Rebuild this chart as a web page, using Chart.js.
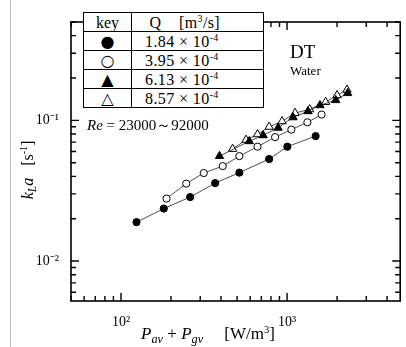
<!DOCTYPE html>
<html>
<head>
<meta charset="utf-8">
<script src="https://cdn.jsdelivr.net/npm/chart.js@4"></script>
<style>
  html, body { margin: 0; padding: 0; background: #fff; }
  #wrap { position: relative; width: 406px; height: 347px; overflow: hidden; font-family: "Liberation Serif", "Times New Roman", serif; color: #000; }
  #wrap canvas { position: absolute; left: 0; top: 0; }
  .lbl { position: absolute; white-space: nowrap; font-family: "Liberation Serif", "Times New Roman", serif; }
  #keytab { position: absolute; left: 83px; top: 12px; width: 179px; table-layout: fixed; border-collapse: collapse; background: #fff; font-size: 16px; font-family: "Liberation Serif", serif; }
  #keytab td { border: 1.5px solid #000; padding: 0; height: 18px; line-height: 17px; white-space: nowrap; overflow: hidden; }
  #keytab td.k { width: 47px; text-align: center; font-family: "DejaVu Sans", sans-serif; font-size: 16px; }
  #keytab td.q { width: 118px; padding-left: 13px; letter-spacing: 0.4px; }
  sup { font-size: 0.62em; line-height: 0; vertical-align: 0; position: relative; top: -0.6em; }
  sub { font-size: 0.72em; line-height: 0; vertical-align: 0; position: relative; top: 0.3em; }
  #vline { position: absolute; left: 10px; top: 0; width: 1px; height: 347px; background: #bbb; }
</style>
</head>
<body>
<div id="wrap">
  <canvas id="chart-kla" width="406" height="347"></canvas>
  <div id="vline"></div>
  <table id="keytab">
    <tr><td class="k" style="font-family:'Liberation Serif',serif;font-size:16px">key</td><td class="q">&nbsp;Q&nbsp;&nbsp;&nbsp;&nbsp;[m<sup>3</sup>/s]</td></tr>
    <tr><td class="k">●</td><td class="q">1.84 × 10<sup>-4</sup></td></tr>
    <tr><td class="k">○</td><td class="q">3.95 × 10<sup>-4</sup></td></tr>
    <tr><td class="k">▲</td><td class="q">6.13 × 10<sup>-4</sup></td></tr>
    <tr><td class="k">△</td><td class="q">8.57 × 10<sup>-4</sup></td></tr>
  </table>
  <div class="lbl" style="left:290px;top:42px;font-size:19px;line-height:19px">DT</div>
  <div class="lbl" style="left:290px;top:64px;font-size:13px;line-height:13px">Water</div>
  <div class="lbl" style="left:87px;top:118px;font-size:15px;line-height:15px"><i>Re</i> = 23000～92000</div>
  <div class="lbl" style="left:28px;top:170px;font-size:16px;line-height:16px;transform:translate(-50%,-50%) rotate(-90deg)"><i>k<sub>L</sub>a</i>&nbsp;&nbsp;&nbsp;[s<sup>-1</sup>]</div>
  <div class="lbl" style="left:208px;top:333px;font-size:17px;line-height:17px;transform:translate(-50%,-50%)"><i>P<sub>av</sub></i> + <i>P<sub>gv</sub></i>&nbsp;&nbsp;&nbsp;&nbsp;&nbsp;[W/m<sup>3</sup>]</div>
</div>

<script>
// ---- data (x: Pav+Pgv [W/m3], y: kLa [1/s]) ----
const seriesLabels = ['1.84e-4', '3.95e-4', '6.13e-4', '8.57e-4'];

const q184X = [124, 181, 261, 369, 516, 780, 1004, 1486];
const q184Y = [0.0189, 0.0236, 0.0285, 0.0358, 0.0425, 0.0531, 0.065, 0.0773];

const q395X = [188, 247, 315, 410, 516, 664, 847, 1061, 1325, 1614];
const q395Y = [0.0278, 0.0355, 0.0422, 0.0473, 0.0557, 0.065, 0.076, 0.0859, 0.0968, 0.1099];

const q613X = [392, 592, 718, 883, 1086, 1336, 1578, 1964, 2317];
const q613Y = [0.0557, 0.071, 0.0782, 0.0885, 0.105, 0.116, 0.128, 0.139, 0.156];

const q857X = [470, 566, 664, 780, 933, 1117, 1368, 1706, 2000, 2296];
const q857Y = [0.0626, 0.0726, 0.0795, 0.0899, 0.0984, 0.1127, 0.1197, 0.1349, 0.1507, 0.165];

const xRange = [50, 4800];
const yRange = [0.0052, 0.5];

function toPoints(xs, ys) {
  return xs.map((x, i) => ({ x: x, y: ys[i] }));
}

const SUP = { '-': '⁻', '0': '⁰', '1': '¹', '2': '²', '3': '³', '4': '⁴', '5': '⁵' };
function isDecade(v) {
  const l = Math.log10(v);
  return Math.abs(l - Math.round(l)) < 1e-6;
}
function decadeLabel(v) {
  if (!isDecade(v)) return '';
  return '10' + String(Math.round(Math.log10(v))).split('').map(c => SUP[c]).join('');
}

// 1..9 x 10^n tick values inside the axis range
function logTickValues(lo, hi) {
  const vals = [];
  for (let e = Math.floor(Math.log10(lo)); e <= Math.ceil(Math.log10(hi)); e++) {
    for (let m = 1; m <= 9; m++) {
      const v = m * Math.pow(10, e);
      if (v >= lo * 0.999 && v <= hi * 1.001) vals.push(v);
    }
  }
  return vals;
}

// box around the plot + inward ticks on all four sides
const frameTicks = {
  id: 'frameTicks',
  afterDatasetsDraw(chart) {
    const ctx = chart.ctx;
    const a = chart.chartArea;
    const sx = chart.scales.x;
    const sy = chart.scales.y;
    ctx.save();
    ctx.strokeStyle = '#000';
    ctx.lineWidth = 1.4;
    ctx.lineCap = 'butt';
    logTickValues(xRange[0], xRange[1]).forEach(v => {
      const px = sx.getPixelForValue(v);
      const len = isDecade(v) ? 8 : 5;
      ctx.beginPath();
      ctx.moveTo(px, a.bottom);
      ctx.lineTo(px, a.bottom - len);
      ctx.moveTo(px, a.top);
      ctx.lineTo(px, a.top + len);
      ctx.stroke();
    });
    logTickValues(yRange[0], yRange[1]).forEach(v => {
      const py = sy.getPixelForValue(v);
      const len = isDecade(v) ? 8 : 5;
      ctx.beginPath();
      ctx.moveTo(a.left, py);
      ctx.lineTo(a.left + len, py);
      ctx.moveTo(a.right, py);
      ctx.lineTo(a.right - len, py);
      ctx.stroke();
    });
    ctx.lineWidth = 1.6;
    ctx.strokeRect(a.left, a.top, a.right - a.left, a.bottom - a.top);
    ctx.restore();
  }
};

function makeSet(label, xs, ys, style, filled, radius) {
  return {
    label: label,
    data: toPoints(xs, ys),
    showLine: true,
    borderColor: '#222',
    borderWidth: 0.8,
    tension: 0,
    pointStyle: style,
    pointRadius: radius,
    pointBorderWidth: 1,
    pointBorderColor: '#000',
    pointBackgroundColor: filled ? '#000' : '#fff'
  };
}

const tickFont = { family: "'Liberation Serif', serif", size: 14 };

new Chart(document.getElementById('chart-kla'), {
  type: 'scatter',
  data: {
    datasets: [
      makeSet(seriesLabels[0], q184X, q184Y, 'circle', true, 3.6),
      makeSet(seriesLabels[1], q395X, q395Y, 'circle', false, 3.6),
      makeSet(seriesLabels[2], q613X, q613Y, 'triangle', true, 4.8),
      makeSet(seriesLabels[3], q857X, q857Y, 'triangle', false, 4.8)
    ]
  },
  options: {
    responsive: false,
    animation: false,
    layout: { padding: { top: 22, right: 4, left: 0, bottom: 0 } },
    plugins: {
      legend: { display: false },
      tooltip: { enabled: false }
    },
    scales: {
      x: {
        type: 'logarithmic',
        min: xRange[0],
        max: xRange[1],
        grid: { display: false },
        border: { display: false },
        ticks: { autoSkip: false, maxRotation: 0, padding: 5, color: '#000', font: tickFont, callback: (v) => decadeLabel(v) },
        afterFit: (s) => { s.height = 46; }
      },
      y: {
        type: 'logarithmic',
        min: yRange[0],
        max: yRange[1],
        grid: { display: false },
        border: { display: false },
        ticks: { autoSkip: false, padding: 4, color: '#000', font: tickFont, callback: (v) => decadeLabel(v) },
        afterFit: (s) => { s.width = 71; }
      }
    }
  },
  plugins: [frameTicks]
});
</script>
</body>
</html>
